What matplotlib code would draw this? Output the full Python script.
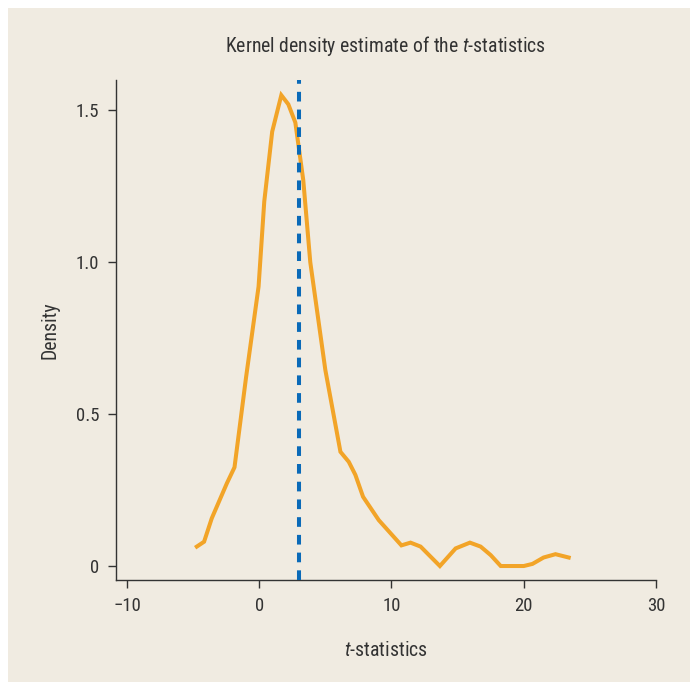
import numpy as np
import matplotlib
matplotlib.use('Agg')
import matplotlib.pyplot as plt
from matplotlib import font_manager
from matplotlib.patches import Rectangle

# kernel density curve
t_vals = [-4.72, -4.17, -3.59, -2.45, -1.87, -1.0, -0.05, 0.38, 0.98, 1.67,
          2.2, 2.73, 3.33, 3.86, 5.0, 6.14, 6.77, 7.27, 7.85, 9.04,
          10.75, 11.44, 12.2, 13.66, 14.85, 15.93, 16.74, 17.5, 18.26, 20.0,
          20.66, 21.5, 22.4, 23.4]
density = [0.064, 0.08, 0.157, 0.272, 0.325, 0.62, 0.92, 1.2, 1.43, 1.55,
           1.52, 1.46, 1.27, 1.0, 0.645, 0.376, 0.343, 0.30, 0.228, 0.151,
           0.068, 0.077, 0.064, 0.0, 0.058, 0.077, 0.064, 0.036, 0.0, 0.0,
           0.007, 0.028, 0.039, 0.028]
vline_x = 3.03

xticks = [-10, 0, 10, 20, 30]
xtick_labels = ['\u221210', '0', '10', '20', '30']
yticks = [0, 0.5, 1.0, 1.5]
ytick_labels = ['0', '0.5', '1.0', '1.5']

names = {f.name for f in font_manager.fontManager.ttflist}
fam = [f for f in ['Liberation Sans Narrow', 'Roboto Condensed', 'Roboto'] if f in names]
plt.rcParams['font.family'] = fam + ['DejaVu Sans']
plt.rcParams['mathtext.fontset'] = 'custom'
plt.rcParams['mathtext.it'] = (fam[0] if fam else 'DejaVu Sans') + ':italic'
plt.rcParams['mathtext.rm'] = fam[0] if fam else 'DejaVu Sans'

bg = '#f0ebe1'
txt = '#333333'
W, H = 690, 682
fig = plt.figure(figsize=(W / 100, H / 100), dpi=100, facecolor='white')
fig.patches.append(Rectangle((8 / W, 0), 1, 1 - 8 / H, transform=fig.transFigure,
                             facecolor=bg, edgecolor='none', zorder=-1))

ax = fig.add_axes([116 / W, 1 - 580 / H, 540 / W, 500 / H])
ax.set_facecolor(bg)
ax.plot(t_vals, density, color='#f2a428', lw=2.9, solid_joinstyle='miter', zorder=2)
ax.axvline(vline_x, color='#0a6ab8', lw=2.9, dashes=(2.4, 2.0), zorder=3)

ax.set_xlim(-10.83, 30)
ax.set_ylim(-0.046, 1.6)
ax.set_xticks(xticks)
ax.set_xticklabels(xtick_labels)
ax.set_yticks(yticks)
ax.set_yticklabels(ytick_labels)
for s in ['top', 'right']:
    ax.spines[s].set_visible(False)
for s in ['left', 'bottom']:
    ax.spines[s].set_color(txt)
    ax.spines[s].set_linewidth(1.0)
ax.tick_params(colors=txt, labelsize=13.5, length=6, width=1.0, pad=6)

ax.set_title('Kernel density estimate of the $t$-statistics', fontsize=14.2,
             color=txt, pad=20)
ax.set_xlabel('$t$-statistics', fontsize=14.2, color=txt, labelpad=19)
ax.set_ylabel('Density', fontsize=14.2, color=txt, labelpad=12)

plt.savefig('out.png', dpi=100, facecolor='white')
